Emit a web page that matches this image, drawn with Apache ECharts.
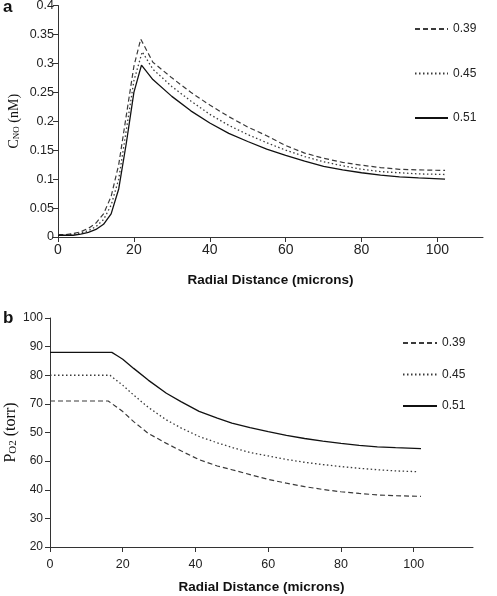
<!DOCTYPE html>
<html><head><meta charset="utf-8">
<script src="https://cdn.jsdelivr.net/npm/echarts@6/dist/echarts.min.js"></script>
<style>html,body{margin:0;padding:0;background:#fff}#c{width:497px;height:596px}</style>
</head><body><div id="c"></div>
<script>
// ---------- data ----------
var seriesNames = ['0.39', '0.45', '0.51'];
var xTicks = [0, 20, 40, 60, 80, 100];

// Panel a: C_NO (nM) vs radial distance
var aX39 = [0,2,4,6,8,10,12,14,16,18,20,21.8,25,30,35,40,45,50,55,60,65,70,75,80,85,90,95,102];
var aY39 = [0.004,0.004,0.006,0.009,0.015,0.024,0.04,0.07,0.125,0.21,0.295,0.342,0.302,0.275,0.25,0.228,0.208,0.19,0.175,0.158,0.145,0.136,0.129,0.124,0.12,0.117,0.116,0.115];
var aX45 = [0,2,4,6,8,10,12,14,16,18,20,22.2,25,30,35,40,45,50,55,60,65,70,75,80,85,90,95,102];
var aY45 = [0.003,0.004,0.005,0.007,0.011,0.018,0.03,0.055,0.1,0.185,0.27,0.32,0.29,0.26,0.235,0.212,0.193,0.177,0.163,0.15,0.139,0.13,0.123,0.117,0.113,0.111,0.109,0.108];
var aX51 = [0,2,4,6,8,10,12,14,16,18,20,22,25,30,35,40,45,50,55,60,65,70,75,80,85,90,95,102];
var aY51 = [0.003,0.003,0.003,0.005,0.008,0.013,0.022,0.04,0.083,0.162,0.25,0.297,0.272,0.243,0.218,0.197,0.179,0.165,0.152,0.141,0.131,0.122,0.116,0.111,0.107,0.104,0.102,0.1];

// Panel b: P_O2 (torr) vs radial distance (values in axis-position units)
var bX39 = [0,16,18,20,23,27,32,36,41,46,50,55,60,65,70,75,80,85,90,95,102];
var bY39 = [71,71,69.2,67.3,63.8,59.7,56.2,53.6,50.5,48.3,47.0,45.3,43.6,42.3,41.1,40.1,39.3,38.7,38.2,37.9,37.7];
var bX45 = [0,16.5,18,20,23,27,32,36,41,46,50,55,60,65,70,75,80,85,90,95,101];
var bY45 = [80,80,78.5,76.5,73.1,68.8,64.4,61.6,58.6,56.4,54.8,53.0,51.8,50.6,49.6,48.8,48.1,47.5,47.0,46.6,46.3];
var bX51 = [0,17,18.5,20,23,27,32,36,41,46,50,55,60,65,70,75,80,85,90,95,102];
var bY51 = [88,88,86.8,85.6,82.4,78.3,73.7,70.8,67.4,65.0,63.3,61.7,60.3,59.0,57.9,57.0,56.2,55.5,55.0,54.7,54.4];

// Panel b y tick labels exactly as printed (bottom to top)
var bYTickLabels = ['20','30','40','60','50','70','80','90','100'];

// ---------- build ----------
function pairs(xs, ys) { return xs.map(function (x, i) { return [x, ys[i]]; }); }

var dashed = [5, 3], dotted = [1.5, 2.5];
var styles = {
  '0.39': { color: '#3a3a3a', type: dashed, width: 1.2 },
  '0.45': { color: '#3a3a3a', type: dotted, width: 1.3 },
  '0.51': { color: '#111111', type: 'solid', width: 1.3 }
};

function mk(name, xs, ys, idx) {
  var s = styles[name];
  return {
    name: name, type: 'line', xAxisIndex: idx, yAxisIndex: idx,
    data: pairs(xs, ys), symbol: 'none', showSymbol: false, animation: false,
    lineStyle: { color: s.color, type: s.type, width: s.width },
    itemStyle: { color: s.color }
  };
}

var axisCol = '#333';
var sans = 'Liberation Sans, Arial, sans-serif';
var serif = 'Liberation Serif, Times New Roman, serif';

function xAxis(gi, max, fs, margin, gap) {
  return {
    gridIndex: gi, type: 'value', min: 0, max: max, interval: 20,
    axisLine: { show: true, onZero: false, lineStyle: { color: axisCol, width: 1 } },
    axisTick: { show: true, length: 5, customValues: xTicks, lineStyle: { color: axisCol } },
    axisLabel: { customValues: xTicks, fontSize: fs, color: '#222', margin: margin, fontFamily: sans },
    splitLine: { show: false },
    name: 'Radial Distance (microns)', nameLocation: 'middle', nameGap: gap, nameMoveOverlap: false,
    nameTextStyle: { fontWeight: 'bold', fontSize: 13.5, color: '#111', fontFamily: sans }
  };
}

var legendBase = {
  orient: 'vertical', itemHeight: 14, selectedMode: false,
  textStyle: { fontSize: 12, color: '#222', fontFamily: sans },
  itemStyle: { color: 'transparent', borderColor: 'transparent', borderWidth: 0, opacity: 0 }
};

var option = {
  backgroundColor: '#fff',
  animation: false,
  grid: [
    { left: 58, top: 5.5, width: 425, height: 231.5, containLabel: false, outerBoundsMode: 'none' },
    { left: 50, top: 318, width: 423, height: 229, containLabel: false, outerBoundsMode: 'none' }
  ],
  xAxis: [ xAxis(0, 112, 14, 6, 36), xAxis(1, 116.3, 12.5, 11, 33) ],
  yAxis: [
    {
      gridIndex: 0, type: 'value', min: 0, max: 0.4, interval: 0.05,
      axisLine: { show: true, lineStyle: { color: axisCol, width: 1 } },
      axisTick: { show: true, length: 5, lineStyle: { color: axisCol } },
      axisLabel: { fontSize: 12.5, color: '#222', margin: 4, fontFamily: sans },
      splitLine: { show: false },
      name: '{m|C}{s|NO}{m| (nM)}', nameLocation: 'middle', nameGap: 37, nameRotate: 90, nameMoveOverlap: false,
      nameTextStyle: { rich: {
        m: { fontFamily: serif, fontSize: 14, color: '#111', verticalAlign: 'bottom', lineHeight: 16 },
        s: { fontFamily: serif, fontSize: 9, color: '#111', verticalAlign: 'bottom', lineHeight: 12 }
      } }
    },
    {
      gridIndex: 1, type: 'value', min: 20, max: 100, interval: 10,
      axisLine: { show: true, lineStyle: { color: axisCol, width: 1 } },
      axisTick: { show: true, length: 5, lineStyle: { color: axisCol } },
      axisLabel: { fontSize: 12, color: '#222', margin: 7, fontFamily: sans,
        formatter: function (v) { return bYTickLabels[Math.round((v - 20) / 10)]; } },
      splitLine: { show: false },
      name: '{m|P}{s|O2}{m| (torr)}', nameLocation: 'middle', nameGap: 31, nameRotate: 90, nameMoveOverlap: false,
      nameTextStyle: { rich: {
        m: { fontFamily: serif, fontSize: 16, color: '#111', verticalAlign: 'bottom', lineHeight: 18 },
        s: { fontFamily: serif, fontSize: 11, color: '#111', verticalAlign: 'bottom', lineHeight: 13 }
      } }
    }
  ],
  legend: [
    Object.assign({}, legendBase, { data: seriesNames, left: 409, top: 18, itemWidth: 33, itemGap: 32.5 }),
    Object.assign({}, legendBase, { data: seriesNames, left: 397, top: 332, itemWidth: 34, itemGap: 19.5 })
  ],
  graphic: [
    { type: 'text', left: 3, top: -1, style: { text: 'a', font: 'bold 17px Liberation Sans', fill: '#111' } },
    { type: 'text', left: 3, top: 310, style: { text: 'b', font: 'bold 17px Liberation Sans', fill: '#111' } }
  ],
  series: [
    mk('0.39', aX39, aY39, 0), mk('0.45', aX45, aY45, 0), mk('0.51', aX51, aY51, 0),
    mk('0.39', bX39, bY39, 1), mk('0.45', bX45, bY45, 1), mk('0.51', bX51, bY51, 1)
  ]
};

var chart = echarts.init(document.getElementById('c'), null, { renderer: 'canvas' });
chart.setOption(option);
</script></body></html>
